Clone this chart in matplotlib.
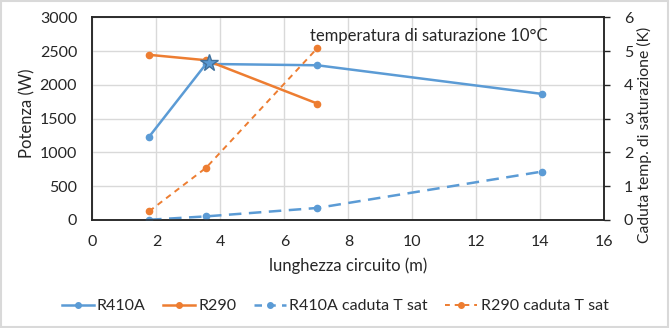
import numpy as np
import matplotlib.pyplot as plt
from matplotlib.lines import Line2D

plt.rcParams['font.family'] = ['Lato', 'DejaVu Sans']

# data
lunghezza = [1.77, 3.55, 7.03, 14.06]
r410a_pot = [1230, 2310, 2290, 1865]
r290_len = [1.77, 3.55, 7.03]
r290_pot = [2445, 2365, 1722]
r410a_dt = [0.0, 0.1, 0.35, 1.43]
r290_dt = [0.25, 1.54, 5.09]
star_pt = (3.65, 2330)

blue = '#5B9BD5'
orange = '#ED7D31'
txt = '#262626'

fig = plt.figure(figsize=(6.7, 3.28), dpi=100)
ax = fig.add_axes([0.138, 0.330, 0.764, 0.617])
ax2 = ax.twinx()

ax.plot(lunghezza, r410a_pot, color=blue, lw=1.8, marker='o', ms=4.5, label='R410A')
ax.plot(r290_len, r290_pot, color=orange, lw=1.8, marker='o', ms=4.5, label='R290')
ax.plot(*star_pt, marker='*', ms=13, color=blue, mec='#41719C', mew=1, zorder=5)

ax2.plot(lunghezza, r410a_dt, color=blue, lw=1.8, ls=(0, (5, 3)), marker='o', ms=4.5)
ax2.plot(r290_len, r290_dt, color=orange, lw=1.4, ls=(0, (3, 2.5)), marker='o', ms=4.5)

ax.set_xlim(0, 16)
ax.set_ylim(0, 3000)
ax2.set_ylim(0, 6)
ax.set_xticks(np.arange(0, 17, 2))
ax.set_yticks(np.arange(0, 3001, 500))
ax2.set_yticks(np.arange(0, 7, 1))
ax.grid(True, color='#D9D9D9', lw=1)
ax.set_axisbelow(True)

for a in (ax, ax2):
    for s in a.spines.values():
        s.set_color(txt)
        s.set_linewidth(1.1)
ax.tick_params(axis='y', length=0, labelsize=11.5, colors=txt, pad=11)
ax.tick_params(axis='x', length=0, labelsize=11.5, colors=txt, pad=11)
ax2.tick_params(axis='y', length=4, labelsize=11.5, colors=txt, width=1, direction='out', pad=10)

ax.set_xlabel('lunghezza circuito (m)', fontsize=12, color=txt, labelpad=6)
fig.text(27 / 670, 1 - 113.5 / 328, 'Potenza (W)', rotation=90, ha='center', va='center',
         fontsize=12, color=txt)
fig.text(644 / 670, 1 - 135 / 328, 'Caduta temp. di saturazione (K)', rotation=90,
         ha='center', va='center', fontsize=11.3, color=txt)

ax.text(6.8, 2730, 'temperatura di saturazione 10°C', fontsize=12, color=txt, va='center')

handles = [
    Line2D([], [], color=blue, lw=1.8, marker='o', ms=4),
    Line2D([], [], color=orange, lw=1.8, marker='o', ms=4),
    Line2D([], [], color=blue, lw=1.8, ls=(0, (3, 2.5)), marker='o', ms=4),
    Line2D([], [], color=orange, lw=1.4, ls=(0, (2.5, 2.5)), marker='o', ms=4),
]
labels = ['R410A', 'R290', 'R410A caduta T sat', 'R290 caduta T sat']
fig.legend(handles, labels, loc='center', bbox_to_anchor=(0.5, 1 - 306 / 328), ncol=4,
           frameon=False, fontsize=11.5, handlelength=2.0, columnspacing=1.1,
           handletextpad=0.2, labelcolor=txt)

fig.patches.append(plt.Rectangle((0.002, 0.003), 0.995, 0.993, transform=fig.transFigure,
                                 fill=False, ec='#D9D9D9', lw=1.5))

fig.savefig('out.png', dpi=100)
